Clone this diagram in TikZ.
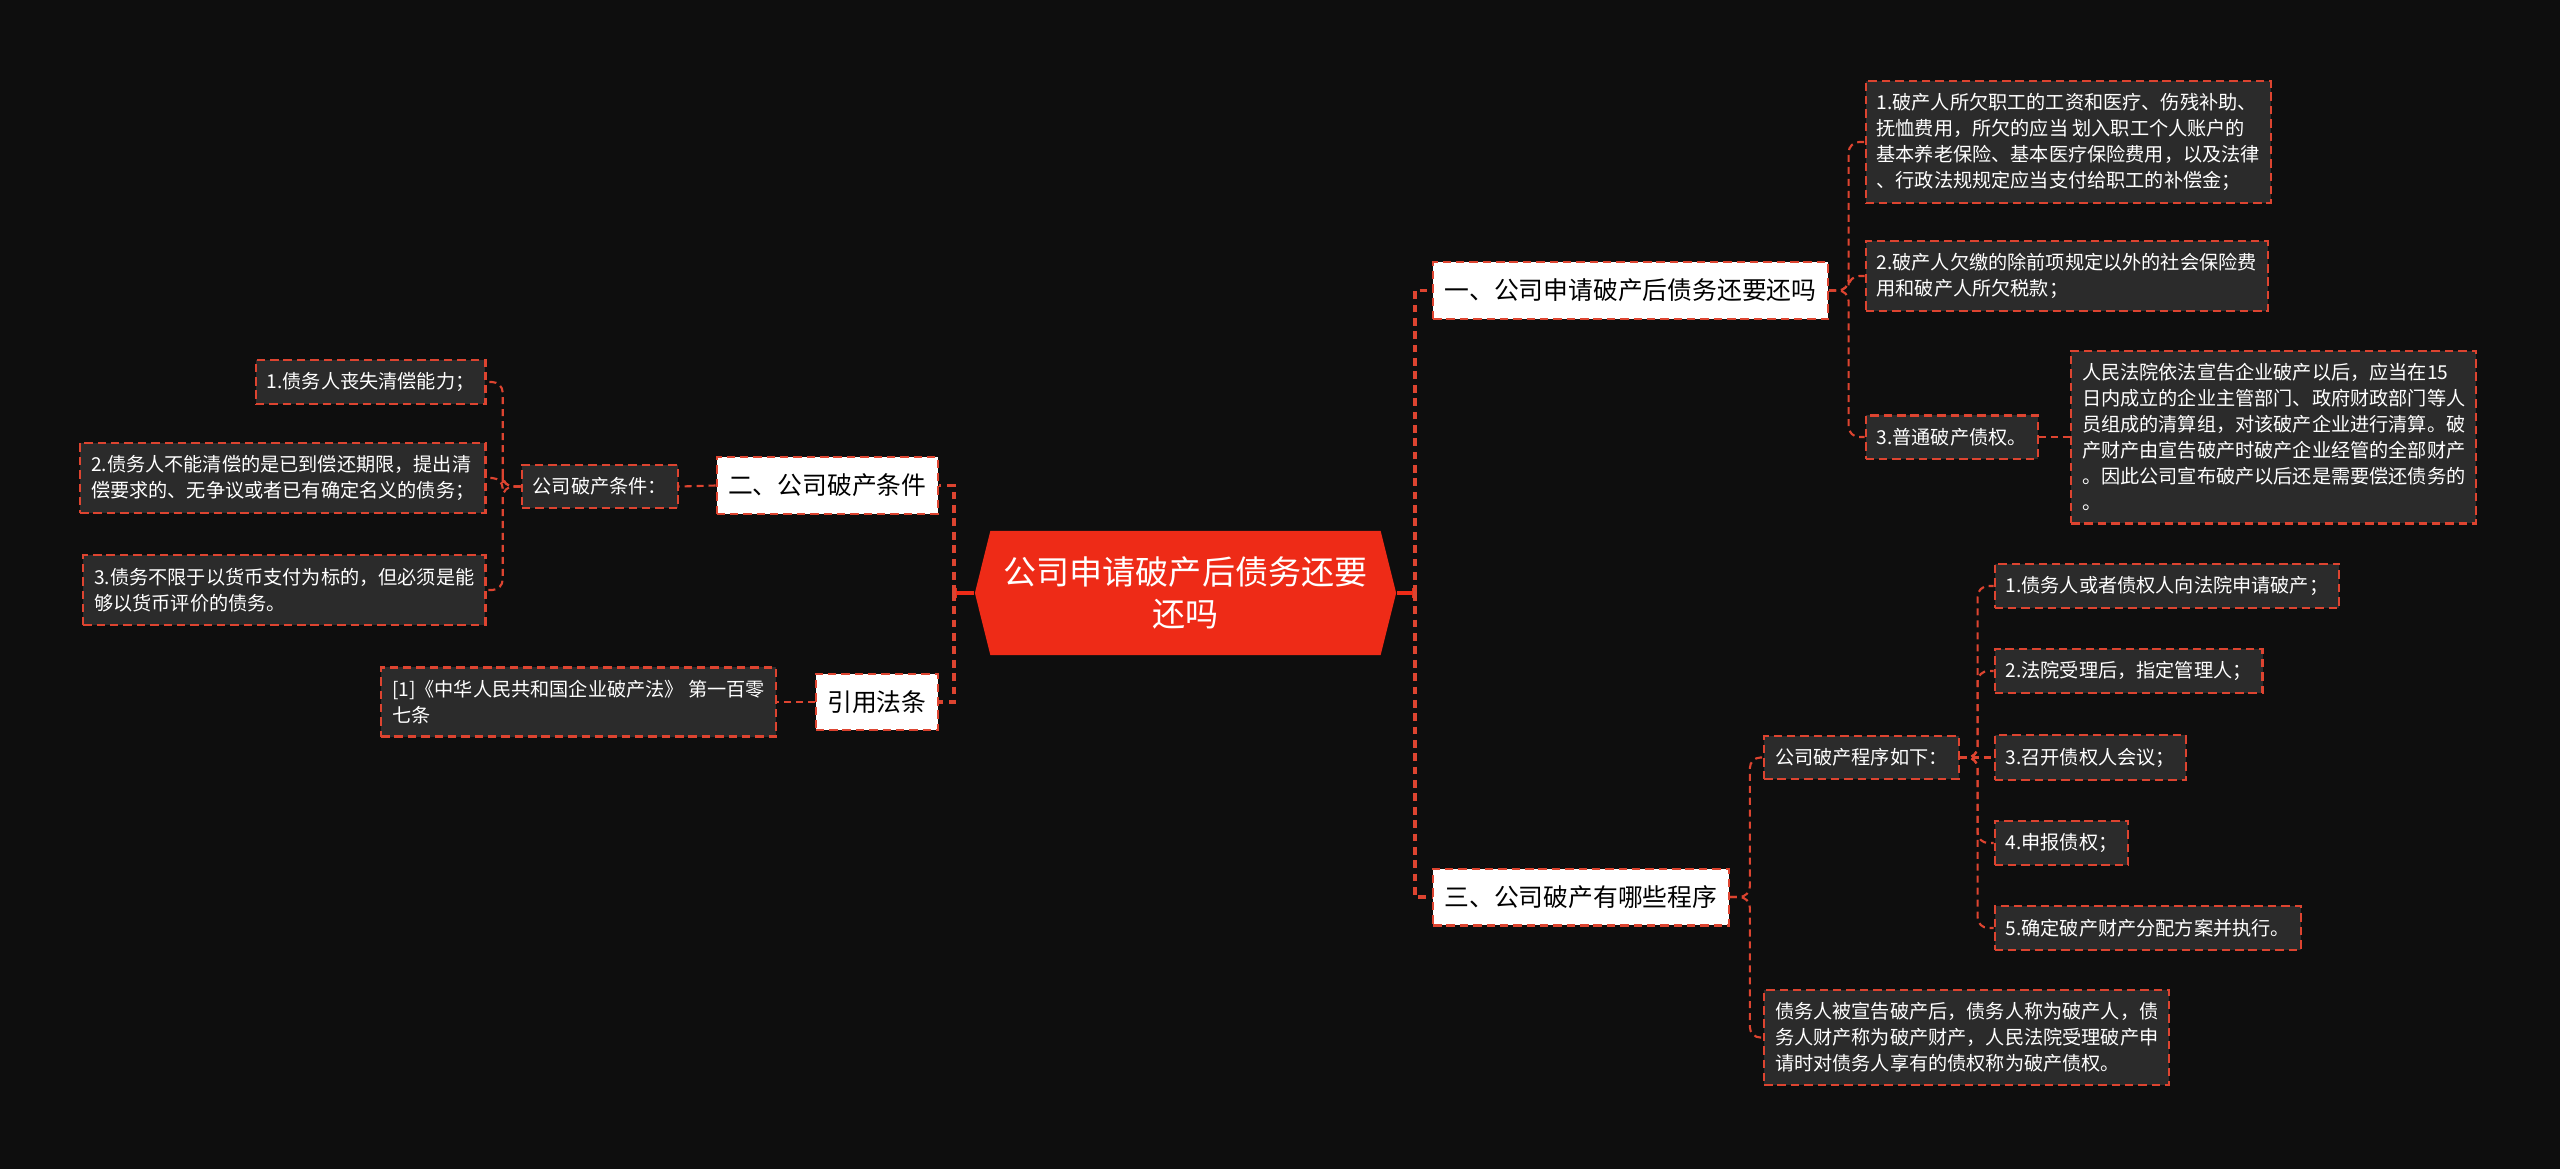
\documentclass[tikz,border=0pt]{standalone}
\usepackage{fontspec}
\setmainfont{Noto Sans CJK SC}
\usetikzlibrary{shapes.symbols,arrows.meta}
\definecolor{bgblack}{RGB}{14,14,14}
\definecolor{boxgray}{RGB}{43,43,43}
\definecolor{linered}{RGB}{221,68,48}
\definecolor{rootred}{RGB}{238,43,23}
\begin{document}
\begin{tikzpicture}[
			x=0.01cm, y=-0.01cm,
			root/.style={signal, signal to=east and west, signal pointer angle=152, fill=rootred, text=white, align=center, minimum width=4.21cm, minimum height=1.24cm, inner sep=0pt, font=\fontsize{9.4pt}{11.9pt}\selectfont},
			topic/.style={draw=linered, fill=white, text=black, line width=0.6pt, dash pattern=on 2.4pt off 1.4pt, inner xsep=0.115cm, inner ysep=4.8pt, font=\fontsize{7.05pt}{9pt}\selectfont},
			leaf/.style={draw=linered, fill=boxgray, text=white, line width=0.6pt, dash pattern=on 2.4pt off 1.4pt, align=left, inner xsep=0.11cm, inner ysep=3.6pt, font=\fontsize{5.45pt}{7.4pt}\selectfont},
			link/.style={draw=linered, line width=0.6pt, dash pattern=on 2pt off 1.4pt, rounded corners=3pt},
			rootlink/.style={draw=linered, line width=1.1pt, dash pattern=on 2.2pt off 1.6pt},
			rootbar/.style={draw=rootred, line width=0.9pt, -{Bar[width=3pt,line width=0.9pt]}}
		]
		\fill[bgblack] (0,0) rectangle (2560,1169);
		\node[root] (root) at (1185.5,593) {公司申请破产后债务还要\\还吗};

		\node[topic, anchor=west] (one) at (1432,290.5) {一、公司申请破产后债务还要还吗};
		\node[leaf, anchor=west] (wage) at (1864.5,142) {1.破产人所欠职工的工资和医疗、伤残补助、\\抚恤费用，所欠的应当 划入职工个人账户的\\基本养老保险、基本医疗保险费用，以及法律\\、行政法规规定应当支付给职工的补偿金；};
		\node[leaf, anchor=west] (tax) at (1864.5,276) {2.破产人欠缴的除前项规定以外的社会保险费\\用和破产人所欠税款；};
		\node[leaf, anchor=west] (claim) at (1864.5,437) {3.普通破产债权。};
		\node[leaf, anchor=west] (court) at (2070,437) {人民法院依法宣告企业破产以后，应当在15\\日内成立的企业主管部门、政府财政部门等人\\员组成的清算组，对该破产企业进行清算。破\\产财产由宣告破产时破产企业经管的全部财产\\。因此公司宣布破产以后还是需要偿还债务的\\。};

		\node[topic, anchor=west] (three) at (1432,897) {三、公司破产有哪些程序};
		\node[leaf, anchor=west] (steps) at (1763,757.5) {公司破产程序如下：};
		\node[leaf, anchor=west] (s1) at (1993.5,586) {1.债务人或者债权人向法院申请破产；};
		\node[leaf, anchor=west] (s2) at (1993.5,671) {2.法院受理后，指定管理人；};
		\node[leaf, anchor=west] (s3) at (1993.5,757.5) {3.召开债权人会议；};
		\node[leaf, anchor=west] (s4) at (1993.5,843) {4.申报债权；};
		\node[leaf, anchor=west] (s5) at (1993.5,928) {5.确定破产财产分配方案并执行。};
		\node[leaf, anchor=west] (debtor) at (1763,1037.5) {债务人被宣告破产后，债务人称为破产人，债\\务人财产称为破产财产，人民法院受理破产申\\请时对债务人享有的债权称为破产债权。};

		\node[topic, anchor=east] (two) at (939,485.5) {二、公司破产条件};
		\node[leaf, anchor=east] (cond) at (679,486.5) {公司破产条件：};
		\node[leaf, anchor=east] (c1) at (486.5,382) {1.债务人丧失清偿能力；};
		\node[leaf, anchor=east] (c2) at (486.5,478) {2.债务人不能清偿的是已到偿还期限，提出清\\偿要求的、无争议或者已有确定名义的债务；};
		\node[leaf, anchor=east] (c3) at (486.5,590) {3.债务不限于以货币支付为标的，但必须是能\\够以货币评价的债务。};

		\node[topic, anchor=east] (cite) at (939,702) {引用法条};
		\node[leaf, anchor=east] (law) at (777,702) {[1]《中华人民共和国企业破产法》 第一百零\\七条};

		\draw[rootbar] (root.east) -- ++(18,0) coordinate (rj);
		\draw[rootlink] (rj) |- (one.west);
		\draw[rootlink] (rj) |- (three.west);
		\draw[rootbar] (root.west) -- ++(-20,0) coordinate (lj);
		\draw[rootlink] (lj) |- (two.east);
		\draw[rootlink] (lj) |- (cite.east);

		\draw[link] (one.east) -- ++(19.6,0) |- (wage.west);
		\draw[link] (one.east) -- ++(19.6,0) |- (tax.west);
		\draw[link] (one.east) -- ++(19.6,0) |- (claim.west);
		\draw[link] (claim.east) -- (court.west);

		\draw[link] (three.east) -- ++(20,0) |- (steps.west);
		\draw[link] (three.east) -- ++(20,0) |- (debtor.west);
		\draw[link] (steps.east) -- ++(18,0) |- (s1.west);
		\draw[link] (steps.east) -- ++(18,0) |- (s2.west);
		\draw[link] (steps.east) -- (s3.west);
		\draw[link] (steps.east) -- ++(18,0) |- (s4.west);
		\draw[link] (steps.east) -- ++(18,0) |- (s5.west);

		\draw[link] (two.west) -- (cond.east);
		\draw[link] (cond.west) -- ++(-18,0) |- (c1.east);
		\draw[link] (cond.west) -- ++(-18,0) |- (c2.east);
		\draw[link] (cond.west) -- ++(-18,0) |- (c3.east);
		\draw[link] (cite.west) -- (law.east);
	\end{tikzpicture}
\end{document}
